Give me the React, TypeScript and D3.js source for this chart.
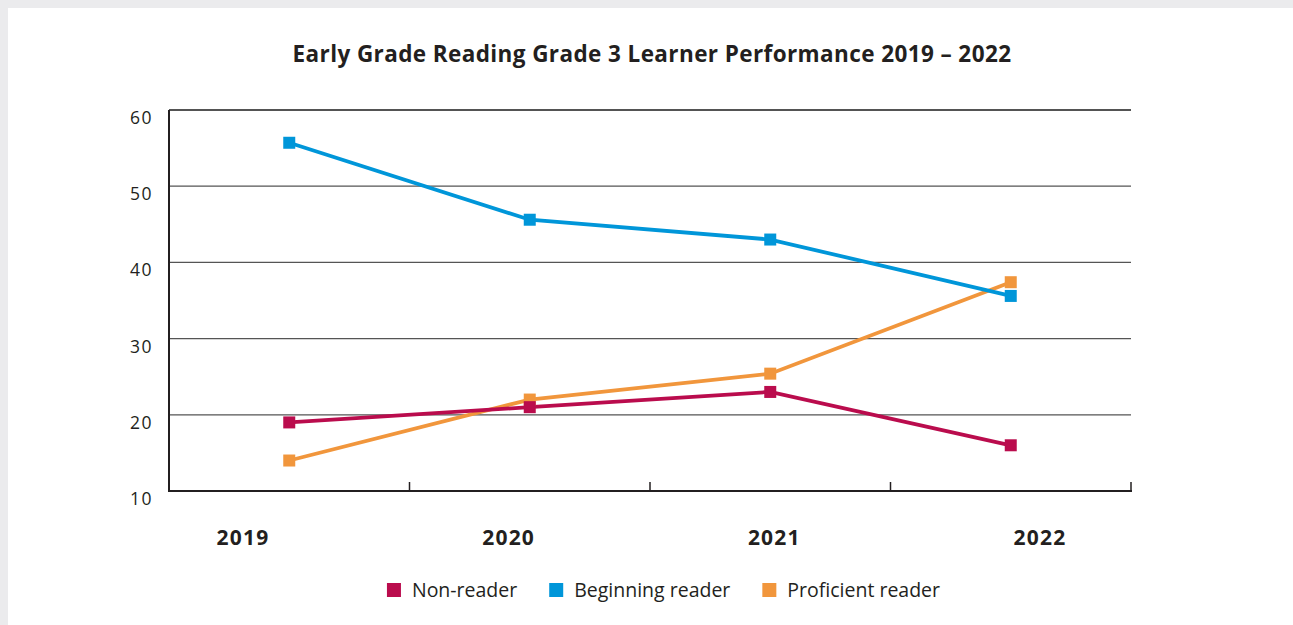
import React, { useRef, useEffect } from "react";
import * as d3 from "d3";

// chart data
const years = ["2019", "2020", "2021", "2022"];
const nonReader = [19, 21, 23, 16];
const beginningReader = [55.7, 45.6, 43, 35.6];
const proficientReader = [14, 22, 25.4, 37.4];
const yTicks = [10, 20, 30, 40, 50, 60];
const seriesNames = ["Non-reader", "Beginning reader", "Proficient reader"];
const title = "Early Grade Reading Grade 3 Learner Performance 2019 \u2013 2022";

const W = 1293;
const H = 625;
const plot = { left: 169, right: 1131, top: 110, bottom: 491 };
const colors = ["#ba0c4d", "#0096d9", "#f1963c"];
const ink = "#231f20";
const font = "'Open Sans', sans-serif";

const App = () => {
  const svgRef = useRef<SVGSVGElement>(null);

  useEffect(() => {
    const svg = d3.select(svgRef.current);
    svg.selectAll("*").remove();

    svg.append("rect").attr("width", W).attr("height", H).attr("fill", "#ebebed");
    svg.append("rect").attr("x", 8).attr("y", 8).attr("width", W - 8).attr("height", H - 8).attr("fill", "#fff");

    svg
      .append("text")
      .attr("x", 652)
      .attr("y", 62)
      .attr("text-anchor", "middle")
      .attr("font-family", font)
      .attr("font-weight", 700)
      .attr("font-size", 22.5)
      .attr("letter-spacing", 0.4)
      .attr("fill", ink)
      .text(title);

    const x = d3.scaleBand().domain(years).range([plot.left, plot.right]);
    const y = d3.scaleLinear().domain([10, 60]).range([plot.bottom, plot.top]);
    const xLabel = d3.scalePoint().domain(years).range([243, 1040]);
    const bw = x.bandwidth();

    // gridlines
    svg
      .append("g")
      .selectAll("line")
      .data(yTicks.filter((t) => t > 10))
      .join("line")
      .attr("x1", plot.left)
      .attr("x2", plot.right)
      .attr("y1", (d) => y(d))
      .attr("y2", (d) => y(d))
      .attr("stroke", (d) => (d === 60 ? "#1a1a1a" : "#555"))
      .attr("stroke-width", (d) => (d === 60 ? 1.5 : 1.2));

    // axes
    svg
      .append("line")
      .attr("x1", plot.left)
      .attr("x2", plot.left)
      .attr("y1", plot.top)
      .attr("y2", plot.bottom + 1)
      .attr("stroke", ink)
      .attr("stroke-width", 2);
    svg
      .append("line")
      .attr("x1", plot.left - 1)
      .attr("x2", plot.right + 1)
      .attr("y1", plot.bottom)
      .attr("y2", plot.bottom)
      .attr("stroke", ink)
      .attr("stroke-width", 2);
    svg
      .append("g")
      .selectAll("line")
      .data(years)
      .join("line")
      .attr("x1", (d) => (x(d) as number) + bw)
      .attr("x2", (d) => (x(d) as number) + bw)
      .attr("y1", plot.bottom - 9)
      .attr("y2", plot.bottom)
      .attr("stroke", ink)
      .attr("stroke-width", 1.5);

    svg
      .append("g")
      .selectAll("text")
      .data(yTicks)
      .join("text")
      .attr("x", 153)
      .attr("y", (d) => y(d) + 14)
      .attr("text-anchor", "end")
      .attr("font-family", font)
      .attr("font-size", 17.5)
      .attr("letter-spacing", 1.5)
      .attr("fill", ink)
      .text((d) => d);

    svg
      .append("g")
      .selectAll("text")
      .data(years)
      .join("text")
      .attr("x", (d) => xLabel(d) as number)
      .attr("y", 545)
      .attr("text-anchor", "middle")
      .attr("font-family", font)
      .attr("font-weight", 700)
      .attr("font-size", 21)
      .attr("letter-spacing", 1.2)
      .attr("fill", ink)
      .text((d) => d);

    const series = [nonReader, beginningReader, proficientReader].map((values, i) => ({
      name: seriesNames[i],
      values,
      color: colors[i],
    }));

    const cx = (i: number) => (x(years[i]) as number) + bw / 2;
    const lineGen = d3
      .line<number>()
      .x((_, i) => cx(i))
      .y((v) => y(v));

    const drawn = series.slice().reverse();
    const g = svg.append("g");
    drawn.forEach((s) => {
      g.append("path")
        .attr("d", lineGen(s.values))
        .attr("fill", "none")
        .attr("stroke", s.color)
        .attr("stroke-width", 3.8);
    });
    drawn.forEach((s) => {
      g.append("g")
        .selectAll("rect")
        .data(s.values)
        .join("rect")
        .attr("x", (_, i) => cx(i) - 6)
        .attr("y", (v) => y(v) - 6)
        .attr("width", 12)
        .attr("height", 12)
        .attr("fill", s.color);
    });

    // legend
    const legend = svg.append("g");
    const items = legend
      .selectAll("g")
      .data(series)
      .join("g");
    items
      .append("rect")
      .attr("y", 583)
      .attr("width", 14)
      .attr("height", 14)
      .attr("fill", (d) => d.color);
    const labels = items
      .append("text")
      .attr("x", 25)
      .attr("y", 597)
      .attr("font-family", font)
      .attr("font-size", 19.5)
      .attr("fill", ink)
      .text((d) => d.name);

    const widths: number[] = [];
    labels.each(function () {
      widths.push((this as SVGTextElement).getComputedTextLength());
    });
    const total = d3.sum(widths, (w) => 25 + w) + 32 * (widths.length - 1);
    let pos = 663.5 - total / 2;
    items.attr("transform", (_, i) => {
      const t = `translate(${pos},0)`;
      pos += 25 + widths[i] + 32;
      return t;
    });
  }, []);

  return (
    <div style={{ position: "fixed", left: 0, top: 0 }}>
      <svg ref={svgRef} width={W} height={H} style={{ display: "block" }} />
    </div>
  );
};

export default App;
